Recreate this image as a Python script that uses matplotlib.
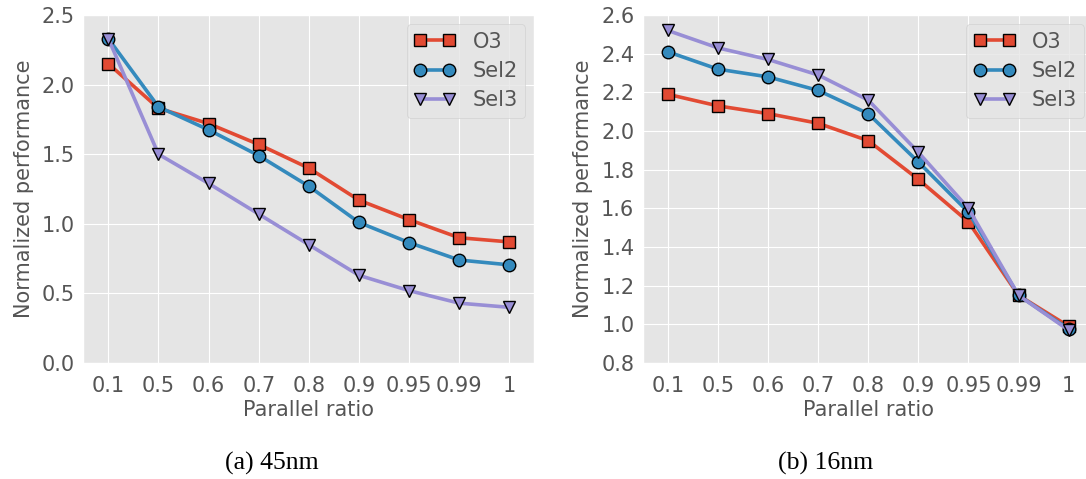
import matplotlib
matplotlib.use("Agg")
import matplotlib.pyplot as plt
import numpy as np

plt.style.use("ggplot")

ratios = ["0.1", "0.5", "0.6", "0.7", "0.8", "0.9", "0.95", "0.99", "1"]

o3_45 = [2.15, 1.83, 1.72, 1.57, 1.40, 1.17, 1.03, 0.90, 0.87]
sel2_45 = [2.33, 1.84, 1.675, 1.49, 1.27, 1.01, 0.865, 0.74, 0.705]
sel3_45 = [2.33, 1.50, 1.29, 1.07, 0.85, 0.63, 0.52, 0.43, 0.40]

o3_16 = [2.19, 2.13, 2.09, 2.04, 1.95, 1.75, 1.53, 1.15, 0.99]
sel2_16 = [2.41, 2.32, 2.28, 2.21, 2.09, 1.84, 1.58, 1.15, 0.975]
sel3_16 = [2.52, 2.43, 2.37, 2.29, 2.16, 1.89, 1.60, 1.15, 0.97]

series_names = ["O3", "Sel2", "Sel3"]
colors = ["#E24A33", "#348ABD", "#988ED5"]
markers = ["s", "o", "v"]

fig = plt.figure(figsize=(10.86, 4.79), dpi=100)
W, H = 1086, 479
ax1 = fig.add_axes([83.3 / W, 116 / H, 451 / W, 348 / H])
ax2 = fig.add_axes([642.7 / W, 116 / H, 451 / W, 348 / H])

x = np.arange(len(ratios))
FS = 15

def draw(ax, data, ylim, yticks, caption, cx):
    for vals, name, c, m in zip(data, series_names, colors, markers):
        ax.plot(x, vals, color=c, marker=m, markersize=9, linewidth=2.6,
                markeredgecolor="black", markeredgewidth=1, label=name)
    ax.set_xlim(-0.5, len(ratios) - 0.5)
    ax.set_ylim(*ylim)
    ax.set_yticks(yticks)
    ax.set_yticklabels(["%.1f" % v for v in yticks])
    ax.set_xticks(x)
    ax.set_xticklabels(ratios)
    ax.tick_params(axis="y", length=0, labelsize=FS, colors="#555555", pad=6)
    ax.tick_params(axis="x", length=0, labelsize=FS, colors="#555555", pad=9.5)
    ax.set_xlabel("Parallel ratio", fontsize=FS, color="#555555", labelpad=3)
    ax.set_ylabel("Normalized performance", fontsize=FS, color="#555555", labelpad=6)
    leg = ax.legend(loc="upper right", numpoints=2, fontsize=FS, handlelength=2.0,
                    borderpad=0.35, labelspacing=0.45, handletextpad=0.8,
                    borderaxespad=0.45)
    for t in leg.get_texts():
        t.set_color("#555555")
    fig.text(cx / W, 1 - 463 / H, caption, ha="center", va="center",
             fontsize=18.5, family="Liberation Serif")

draw(ax1, [o3_45, sel2_45, sel3_45], (0, 2.5), np.arange(0, 2.51, 0.5),
     "(a) 45nm", 272)
draw(ax2, [o3_16, sel2_16, sel3_16], (0.8, 2.6), np.arange(0.8, 2.61, 0.2),
     "(b) 16nm", 826)

fig.savefig("out.png", dpi=100)
